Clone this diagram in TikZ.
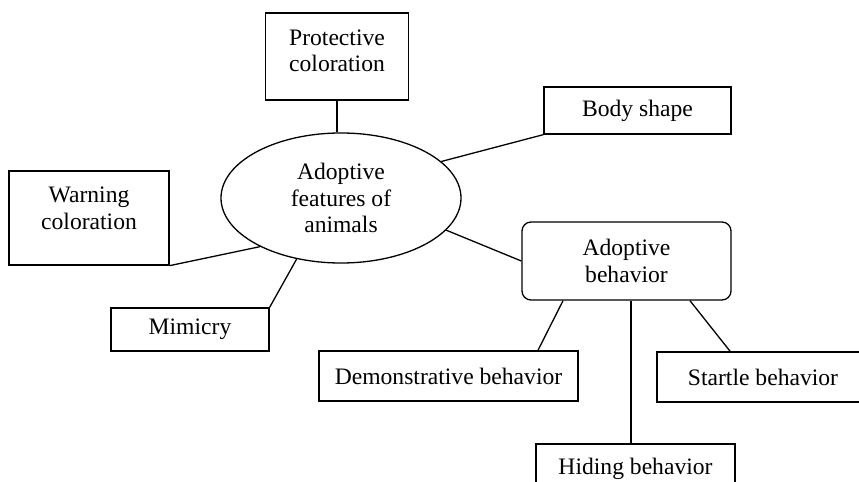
\documentclass[tikz,border=0pt]{standalone}
\usepackage{fontspec}
\setmainfont{Liberation Serif}
\usetikzlibrary{positioning, shapes.geometric}
\tikzset{
    box/.style = {
      draw=black, line width=0.65pt, inner sep=2pt, align=center,
      font=\fontsize{11.8pt}{13.3pt}\selectfont,
    },
    topbox/.style = {box, text depth=#1},
    roundbox/.style = {box, rounded corners=4.5pt},
    hub/.style = {
      box, ellipse, inner sep=0pt,
      minimum width=120pt, minimum height=65pt,
    },
    link/.style = {line width=0.65pt, black},
}

\begin{document}
\begin{tikzpicture}[x=0.5pt, y=-0.5pt]
    \useasboundingbox (0,0) rectangle (859,482);

    %% The central idea
    \node [hub] (ell) at (341,198) {Adoptive\\features of\\animals};

    %% Features round it
    \node [topbox=6pt, minimum width=71.5pt, minimum height=43.5pt]
          (prot) at (337,56.5) {Protective\\coloration};
    \node [topbox=10pt, minimum width=80pt, minimum height=47pt]
          (warn) at (89,218) {Warning\\coloration};
    \node [box, minimum width=79pt, minimum height=21.5pt]
          (mimic) at (190,329.5) {Mimicry};
    \node [box, minimum width=93.5pt, minimum height=23.5pt]
          (body) at (637.5,110.5) {Body shape};
    \node [roundbox, minimum width=104.5pt, minimum height=39pt]
          (behav) at (626.5,261) {Adoptive\\behavior};

    %% Kinds of behavior
    \node [box, minimum width=129.5pt, minimum height=25pt]
          (demo) at (448.5,376) {Demonstrative behavior};
    \node [box, minimum width=106pt, minimum height=25pt]
          (startle) at (763,377) {Startle behavior};
    \node [box, minimum width=99.5pt, minimum height=25pt]
          (hide) at (635.5,469) {Hiding behavior};

    %% Connect them
    \draw [link] (prot.south) -- (prot.south |- ell.north);
    \draw [link] (ell.211) -- (warn.south east);
    \draw [link] (ell.234) -- (mimic.north east);
    \draw [link] (ell.20) -- (body.south west);
    \draw [link] (ell.343) -- (behav.west);
    \draw [link] (behav.212) -- (demo.16);
    \draw [link] (behav.328) -- (startle.142);
    \draw [link] ([xshift=2.25pt] behav.south)
      -- ([xshift=2.25pt] behav.south |- hide.north);
  \end{tikzpicture}
\end{document}
